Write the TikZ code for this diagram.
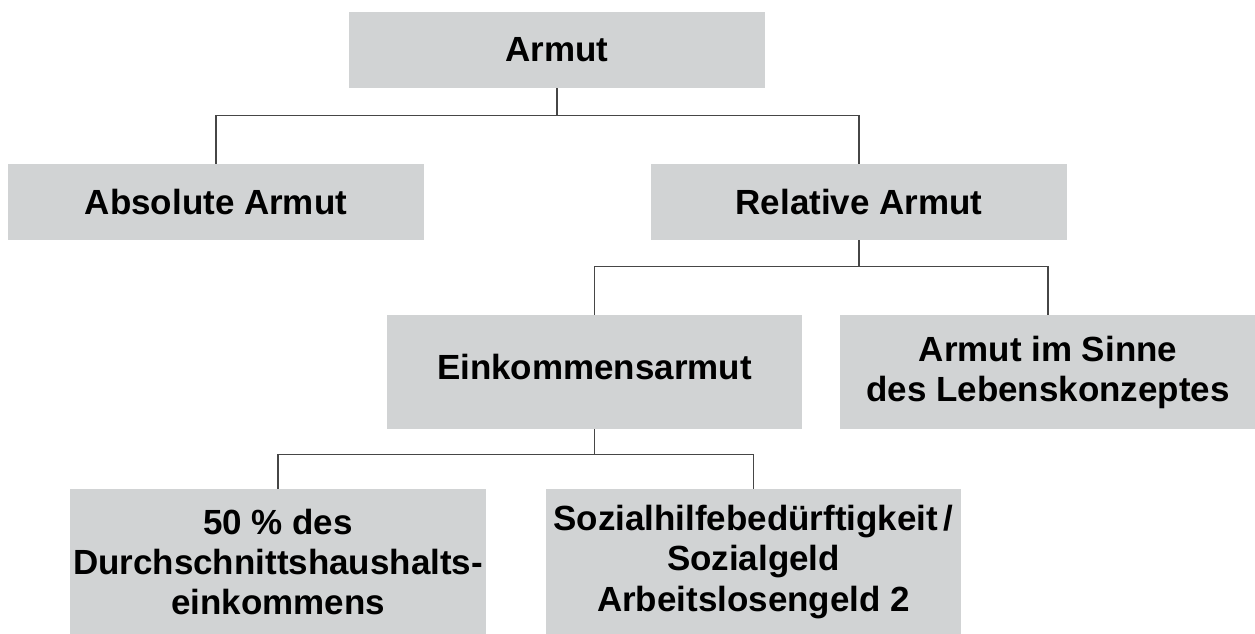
\documentclass[tikz,border=0pt]{standalone}
\usepackage{fontspec}
\setmainfont{Liberation Sans}
\usepackage{xcolor}
\usepackage{tikz}
\usetikzlibrary{positioning,calc}
\definecolor{boxGray}{RGB}{209,211,212}
\definecolor{lineGray}{RGB}{70,70,70}

\begin{document}
\begin{tikzpicture}[
    x=0.02cm, y=-0.02cm,
    every node/.style={font=\bfseries\fontsize{19.9}{22.8}\selectfont},
    box/.style={rectangle,fill=boxGray,inner sep=0pt,align=center,
                minimum width=8.32cm,minimum height=1.52cm},
    tallbox/.style={box,minimum height=2.28cm},
    bottombox/.style={box,minimum height=2.92cm},
    conn/.style={draw=lineGray,line width=0.6pt}
  ]
  \useasboundingbox (0,0) rectangle (1255,634);
  %% Top level
  \node[box] (armut) at (557,50) {Armut};
  %% Second level
  \node[box] (absolut) at (216,202) {Absolute Armut};
  \node[box] (relativ) at (859,202) {Relative Armut};
  \draw[conn] (armut.south) -- ++(0,27) coordinate (j1);
  \draw[conn] (absolut.north) |- (j1) -| (relativ.north);
  %% Third level
  \node[tallbox] (einkommen) at (594.5,372) {\raisebox{6pt}{Einkommensarmut}};
  \node[tallbox] (lebens) at (1048,372) {Armut im Sinne\\des Lebenskonzeptes};
  \draw[conn] (relativ.south) -- ++(0,26) coordinate (j2);
  \draw[conn] (einkommen.north) |- (j2) -| (lebens.north);
  %% Fourth level (cut off at the bottom edge)
  \node[bottombox] (durchschnitt) at (278,562)
        {50 \% des\\Durchschnittshaushalts-\\einkommens};
  \node[bottombox] (sozial) at (753.5,562)
        {Sozialhilfebedürftigkeit\,/\\Sozialgeld\\Arbeitslosengeld 2};
  \draw[conn] (einkommen.south) -- ++(0,25) coordinate (j3);
  \draw[conn] (durchschnitt.north) |- (j3) -| (sozial.north);
\end{tikzpicture}
\end{document}
